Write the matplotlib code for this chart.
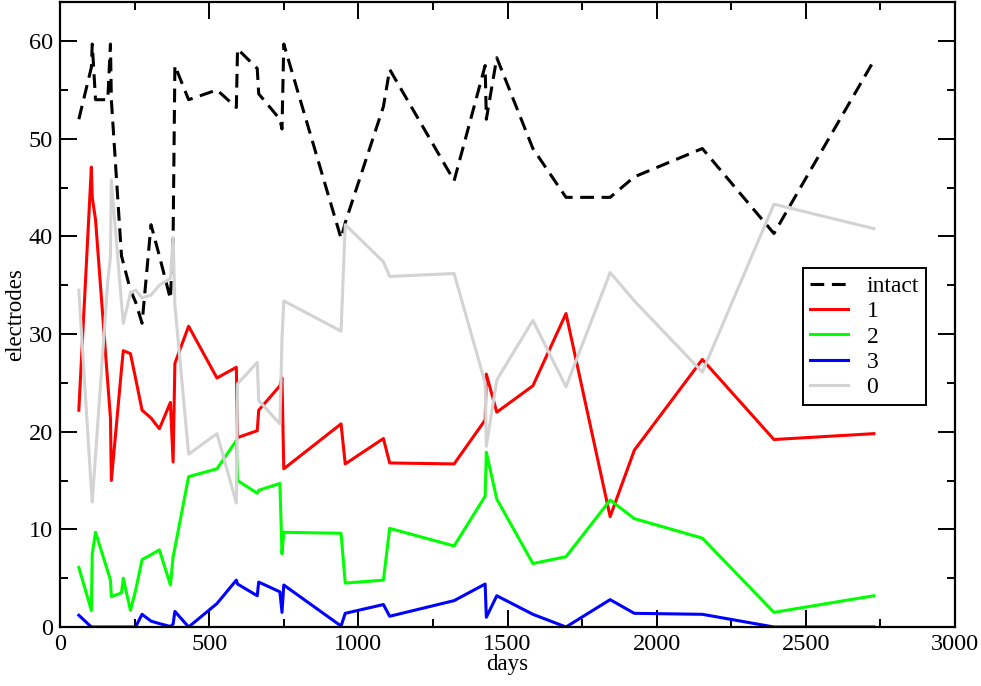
import matplotlib
matplotlib.use('Agg')
import matplotlib.pyplot as plt
from matplotlib.ticker import MultipleLocator

# shared measurement days
days = [63, 105, 108, 119, 160, 169, 172, 206, 212, 236, 253, 275, 305, 333,
        370, 379, 385, 431, 526, 591, 595, 661, 666, 737, 744, 750, 942, 956,
        1084, 1105, 1321, 1425, 1429, 1464, 1585, 1696, 1844, 1925, 2153, 2393, 2728]

intact = [52.0, 57.3, 59.7, 54.0, 54.0, 59.7, 54.0, 38.0, 37.3, 34.5, 33.3, 31.1,
          41.2, 38.0, 33.6, 39.9, 57.5, 54.0, 55.0, 53.2, 59.2, 57.2, 54.6, 52.0,
          51.0, 59.7, 39.8, 41.4, 53.3, 57.1, 45.7, 57.5, 52.0, 58.3, 49.0, 44.0,
          44.0, 46.1, 49.0, 40.3, 58.0]

one = [22.2, 47.1, 44.0, 41.7, 25.0, 21.4, 15.0, 26.4, 28.3, 28.0, 25.5, 22.2,
       21.4, 20.3, 23.0, 16.9, 27.0, 30.8, 25.5, 26.6, 19.4, 20.1, 22.2, 24.7,
       25.5, 16.2, 20.8, 16.7, 19.3, 16.8, 16.7, 21.2, 25.9, 22.0, 24.7, 32.1,
       11.3, 18.1, 27.4, 19.2, 19.8]

two = [6.1, 1.7, 7.5, 9.7, 5.7, 4.8, 3.1, 3.5, 5.0, 1.7, 3.7, 6.9, 7.4, 7.9,
       4.3, 7.2, 8.1, 15.4, 16.2, 19.1, 15.0, 13.7, 14.0, 14.7, 7.5, 9.7, 9.6,
       4.5, 4.8, 10.1, 8.3, 13.4, 17.9, 13.1, 6.5, 7.2, 13.0, 11.1, 9.1, 1.5, 3.2]

three = [1.2, 0, 0, 0, 0, 0, 0, 0, 0, 0, 0, 1.3, 0.6, 0.35, 0.05, 0.3, 1.6, 0,
         2.4, 4.8, 4.4, 3.2, 4.6, 3.6, 1.5, 4.3, 0.1, 1.4, 2.3, 1.1, 2.7, 4.4,
         1.0, 3.2, 1.3, 0, 2.8, 1.4, 1.3, 0, 0]

zero = [34.5, 14.0, 12.8, 17.6, 35.4, 37.9, 45.8, 33.2, 31.1, 34.2, 34.5, 33.7,
        34.0, 35.0, 35.7, 39.9, 33.0, 17.7, 19.8, 12.7, 24.9, 27.1, 23.2, 20.8,
        29.5, 33.4, 30.3, 41.2, 37.4, 35.9, 36.2, 25.0, 18.5, 25.3, 31.4, 24.6,
        36.3, 33.4, 26.1, 43.3, 40.8]

plt.rcParams['font.family'] = ['Liberation Serif', 'DejaVu Serif']

fig = plt.figure(figsize=(9.81, 6.86), dpi=100)
ax = fig.add_axes([0.0612, 0.086, 0.9123, 0.911])

lw = 2.2
ax.plot(days, intact, color='black', lw=lw, dashes=(4.5, 2.5), label='intact')
ax.plot(days, one, color='#ff0000', lw=lw, label='1')
ax.plot(days, two, color='#00ff00', lw=lw, label='2')
ax.plot(days, three, color='#0000ff', lw=lw, label='3')
ax.plot(days, zero, color='#d3d3d3', lw=lw, label='0')

ax.set_xlim(0, 3000)
ax.set_ylim(0, 64)
ax.xaxis.set_major_locator(MultipleLocator(500))
ax.xaxis.set_minor_locator(MultipleLocator(250))
ax.yaxis.set_major_locator(MultipleLocator(10))
ax.yaxis.set_minor_locator(MultipleLocator(5))
ax.tick_params(which='both', direction='in', top=True, right=True,
               width=1.4, labelsize=17.5)
ax.tick_params(which='major', length=12, pad=5)
ax.tick_params(which='minor', length=6)
for s in ax.spines.values():
    s.set_linewidth(1.6)

ax.set_xlabel('days', fontsize=16.5, labelpad=-1)
ax.set_ylabel('electrodes', fontsize=16.5, labelpad=2)

leg = ax.legend(loc='upper left', bbox_to_anchor=(0.83, 0.574), fontsize=17,
                fancybox=False, framealpha=1, edgecolor='black',
                handlelength=1.6, borderpad=0.3, labelspacing=0.16,
                handletextpad=0.8, borderaxespad=0)
leg.get_frame().set_linewidth(1.4)

fig.savefig('out.png', dpi=100)
